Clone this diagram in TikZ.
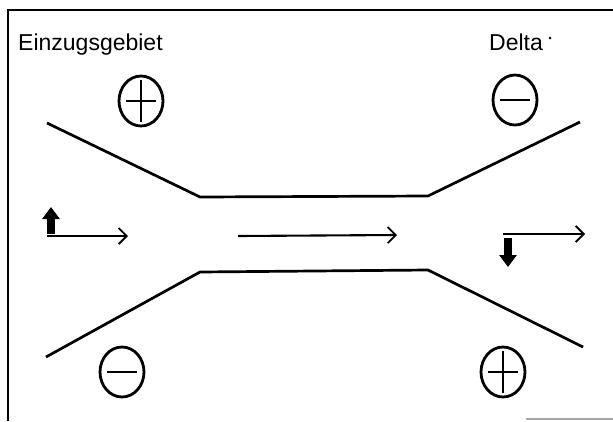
\documentclass[tikz,border=0pt]{standalone}
\usepackage{fontspec}
\setmainfont{Liberation Sans}
\usetikzlibrary{arrows.meta,shapes.geometric}
\tikzset{
  title/.style={anchor=base west,inner sep=0pt,font=\fontsize{23}{23}\selectfont},
  sign/.style={draw,ellipse,line width=2.8pt,minimum width=44pt,minimum height=50pt,inner sep=0pt},
  bar/.style={line width=2pt},
  bank/.style={line width=2.7pt,line join=round},
  flow/.style={line width=2.1pt,-{Straight Barb[length=8pt,width=16pt,line width=1.8pt]}},
  drift/.style={line width=8pt,-{Triangle[length=12pt,width=17pt]}}
}
\begin{document}
\begin{tikzpicture}[x=1pt,y=-1pt]
\useasboundingbox (0,0) rectangle (613,421);
% frame
\draw[line width=2.4pt] (8,421) -- (8,10) -- (613,10);
\draw[line width=1.4pt,gray!70] (526,419) -- (613,419);

% titles
\node[title] (catch) at (18,50) {Einzugsgebiet};
\node[title] (delta) at (489,50) {Delta};
\fill ([xshift=7pt,yshift=12pt]delta.base east) circle (1.4pt);

% signs
\node[sign] (ul) at (141,101) {};
\node[sign] (ur) at (515,100) {};
\node[sign] (ll) at (122,372) {};
\node[sign] (lr) at (503,372) {};
\draw[bar] ([xshift=-15pt]ul.center) -- ([xshift=15pt]ul.center)
           ([yshift=-21pt]ul.center) -- ([yshift=21pt]ul.center);
\draw[bar] ([xshift=-15pt]ur.center) -- ([xshift=15pt]ur.center);
\draw[bar] ([xshift=-15pt]ll.center) -- ([xshift=15pt]ll.center);
\draw[bar] ([xshift=-15pt]lr.center) -- ([xshift=15pt]lr.center)
           ([yshift=-21pt]lr.center) -- ([yshift=21pt]lr.center);

% channel banks
\draw[bank] (47,123) -- (200,197) -- (428,196) -- (580,122);
\draw[bank] (46,357) -- (200,272) -- (428,270) -- (583,347);

% flow arrows
\coordinate (a1) at (47,236);
\coordinate (a2) at (128,236);
\coordinate (a3) at (51,207);
\coordinate (m1) at (238,236);
\coordinate (m2) at (397,235);
\coordinate (b1) at (503,234);
\coordinate (b2) at (585,234);
\coordinate (b3) at (508,267);
\draw[drift] ([xshift=4pt,yshift=2pt]a1.center) -- (a3);
\draw[flow] (a1) -- (a2);
\draw[flow] (m1) -- (m2);
\draw[drift] ([xshift=5pt,yshift=-4pt]b1.center) -- (b3);
\draw[flow] (b1) -- (b2);
\end{tikzpicture}
\end{document}
